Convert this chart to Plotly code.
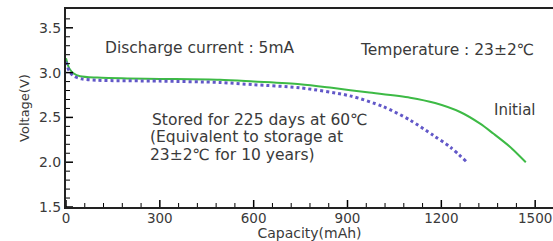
import plotly.graph_objects as go

# Initial discharge curve
init_cap = [0, 10, 25, 45, 100, 200, 300, 492, 600, 748, 850, 963, 1100, 1180, 1260, 1324, 1366, 1420, 1470]
init_v   = [3.16, 3.05, 2.99, 2.96, 2.945, 2.935, 2.93, 2.92, 2.90, 2.87, 2.83, 2.78, 2.72, 2.66, 2.56, 2.43, 2.32, 2.17, 2.0]

# Stored for 225 days at 60C
stor_cap = [0, 10, 25, 50, 100, 300, 492, 600, 748, 908, 1014, 1100, 1174, 1228, 1282]
stor_v   = [3.12, 3.02, 2.96, 2.93, 2.915, 2.905, 2.89, 2.865, 2.83, 2.74, 2.62, 2.47, 2.30, 2.17, 2.0]

x_ticks = [0, 300, 600, 900, 1200, 1500]
y_ticks = [1.5, 2.0, 2.5, 3.0, 3.5]
X_RANGE = [0, 1557]
Y_RANGE = [1.5, 3.71]

# minor tick positions (every 60 mAh, every 0.1 V)
x_minor = [v for v in range(0, 1561, 60) if v not in x_ticks]
y_minor = [round(1.5 + 0.1 * i, 2) for i in range(0, 22)]
y_minor = [v for v in y_minor if v not in y_ticks]

FONT = "DejaVu Sans"
TXT = "#3a3a3a"

fig = go.Figure()
fig.add_trace(go.Scatter(x=init_cap, y=init_v, mode="lines",
                         line=dict(color="#3dba45", width=2, shape="spline", smoothing=0.8),
                         showlegend=False))
fig.add_trace(go.Scatter(x=stor_cap, y=stor_v, mode="lines",
                         line=dict(color="#6258c8", width=3, dash="dot", shape="spline", smoothing=0.8),
                         showlegend=False))

# inside tick marks as pixel-sized line shapes anchored on the axis positions
def x_tick(v, length, width):
    fig.add_shape(type="line", xref="x", yref="y", x0=v, x1=v, ysizemode="pixel", yanchor=Y_RANGE[0],
                  y0=0, y1=length, line=dict(color="black", width=width), layer="above")

def y_tick(v, length, width):
    fig.add_shape(type="line", xref="x", yref="y", y0=v, y1=v, xsizemode="pixel", xanchor=X_RANGE[0],
                  x0=0, x1=length, line=dict(color="black", width=width), layer="above")

for v in x_ticks:
    x_tick(v, 7, 1.5)
for v in x_minor:
    x_tick(v, 4, 1)
for v in y_ticks:
    y_tick(v, 7, 1.5)
for v in y_minor:
    y_tick(v, 4, 1)

ann = [
    dict(x=118, y=3.27, text="Discharge current : 5mA", size=15.5),
    dict(x=934, y=3.25, text="Temperature : 23±2℃", size=15.5),
    dict(x=269, y=2.47, text="Stored for 225 days at 60℃", size=15.5),
    dict(x=262, y=2.28, text="(Equivalent to storage at", size=15.5),
    dict(x=262, y=2.08, text="23±2℃ for 10 years)", size=15.5),
    dict(x=1362, y=2.58, text="Initial", size=15),
]
for a in ann:
    fig.add_annotation(x=a["x"], y=a["y"], text=a["text"], showarrow=False, xanchor="left", yanchor="middle",
                       font=dict(family=FONT, size=a["size"], color=TXT))

fig.update_layout(
    width=553, height=241,
    margin=dict(l=66, r=0, t=9, b=34),
    paper_bgcolor="white", plot_bgcolor="white",
    font=dict(family=FONT, size=12, color=TXT),
    xaxis=dict(range=X_RANGE, tickmode="array", tickvals=x_ticks, ticks="", ticklabelstandoff=-2,
               showline=True, linecolor="#222", linewidth=2, mirror=True, showgrid=False,
               zeroline=False, title=dict(text="Capacity(mAh)", standoff=2, font=dict(size=14)),
               tickfont=dict(size=13.5), automargin=False, ticklabeloverflow="allow"),
    yaxis=dict(range=Y_RANGE, tickmode="array", tickvals=y_ticks, tickformat=".1f", ticks="",
               showline=True, linecolor="#222", linewidth=2, showgrid=False,
               zeroline=False, title=dict(text="Voltage(V)", standoff=6, font=dict(size=13)),
               tickfont=dict(size=14), automargin=False),
)

fig.write_html("out.html", config={"displayModeBar": False},
               post_script="document.body.style.margin='0';document.body.style.overflow='hidden';")
